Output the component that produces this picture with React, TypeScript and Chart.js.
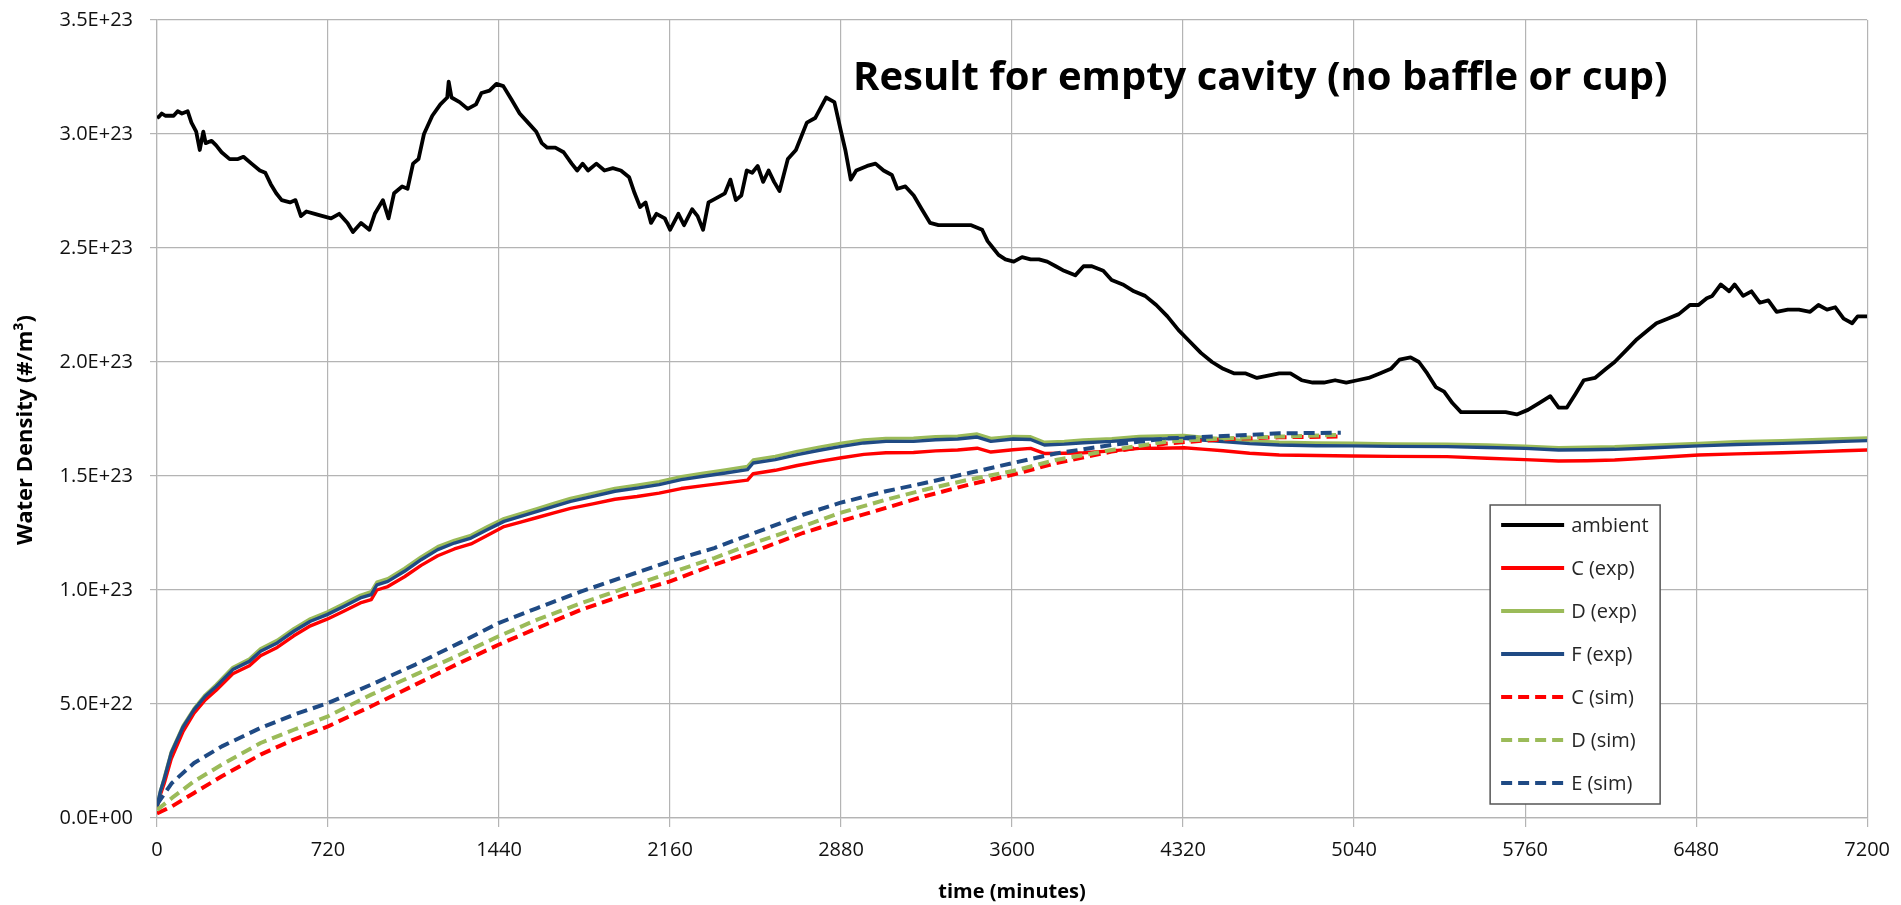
import React, { useEffect, useRef } from "react";
import { Chart, registerables } from "chart.js";

Chart.register(...registerables);

const TITLE = "Result for empty cavity (no baffle or cup)";
const Y_TITLE = "Water Density (#/m³)";
const X_TITLE = "time (minutes)";

const X_MIN = 0;
const X_MAX = 7200;
const X_STEP = 720;
const Y_MIN = 0;
const Y_MAX = 3.5e23;
const Y_STEP = 0.5e23;
const PLOT_TOP = 20;

// ambient (units of 1E23)
const ambientTime = [
  0, 7, 20, 35, 50, 70, 87, 105, 129, 145, 165, 180, 195, 205, 230, 249, 272, 306, 341, 364, 398, 433, 456, 479, 502,
  525, 560, 583, 606, 629, 664, 698, 733, 767, 802, 825, 859, 894, 917, 951, 975, 998, 1032, 1055, 1078, 1101, 1124,
  1159, 1193, 1222, 1228, 1240, 1274, 1308, 1343, 1366, 1400, 1429, 1458, 1493, 1527, 1562, 1597, 1620, 1643, 1677,
  1712, 1746, 1769, 1792, 1815, 1850, 1884, 1919, 1953, 1988, 2011, 2034, 2057, 2080, 2103, 2138, 2160, 2195, 2219,
  2253, 2276, 2299, 2322, 2357, 2391, 2414, 2437, 2460, 2483, 2506, 2529, 2552, 2575, 2598, 2621, 2656, 2690, 2736,
  2771, 2817, 2852, 2880, 2898, 2921, 2944, 2990, 3025, 3059, 3094, 3117, 3151, 3186, 3220, 3255, 3290, 3359, 3428,
  3474, 3497, 3520, 3543, 3572, 3607, 3642, 3678, 3713, 3748, 3784, 3819, 3866, 3901, 3936, 3984, 4019, 4066, 4113,
  4160, 4207, 4254, 4301, 4348, 4395, 4442, 4489, 4536, 4584, 4631, 4678, 4725, 4772, 4819, 4866, 4913, 4960, 5007,
  5054, 5101, 5148, 5195, 5231, 5278, 5313, 5348, 5384, 5419, 5454, 5490, 5537, 5584, 5631, 5678, 5725, 5772, 5819,
  5866, 5901, 5936, 5972, 6007, 6054, 6101, 6137, 6184, 6231, 6278, 6313, 6360, 6407, 6454, 6490, 6525, 6548, 6584,
  6619, 6642, 6678, 6713, 6748, 6784, 6819, 6866, 6913, 6960, 6995, 7031, 7066, 7101, 7137, 7160, 7200,
];
const ambientValue = [
  3.07, 3.075, 3.09, 3.08, 3.08, 3.08, 3.1, 3.09, 3.1, 3.05, 3.01, 2.93, 3.01, 2.96, 2.97, 2.95, 2.92, 2.89, 2.89, 2.9,
  2.87, 2.84, 2.83, 2.78, 2.74, 2.71, 2.7, 2.71, 2.64, 2.66, 2.65, 2.64, 2.63, 2.65, 2.61, 2.57, 2.61, 2.58, 2.65, 2.71,
  2.63, 2.74, 2.77, 2.76, 2.87, 2.89, 3.0, 3.08, 3.13, 3.16, 3.23, 3.16, 3.14, 3.11, 3.13, 3.18, 3.19, 3.22, 3.21, 3.15,
  3.09, 3.05, 3.01, 2.96, 2.94, 2.94, 2.92, 2.87, 2.84, 2.87, 2.84, 2.87, 2.84, 2.85, 2.84, 2.81, 2.74, 2.68, 2.7, 2.61,
  2.65, 2.63, 2.58, 2.65, 2.6, 2.67, 2.64, 2.58, 2.7, 2.72, 2.74, 2.8, 2.71, 2.73, 2.84, 2.83, 2.86, 2.79, 2.84, 2.79,
  2.75, 2.89, 2.93, 3.05, 3.07, 3.16, 3.14, 3.01, 2.93, 2.8, 2.84, 2.86, 2.87, 2.84, 2.82, 2.76, 2.77, 2.73, 2.67, 2.61,
  2.6, 2.6, 2.6, 2.58, 2.53, 2.5, 2.47, 2.45, 2.44, 2.46, 2.45, 2.45, 2.44, 2.42, 2.4, 2.38, 2.42, 2.42, 2.4, 2.36, 2.34,
  2.31, 2.29, 2.25, 2.2, 2.14, 2.09, 2.04, 2.0, 1.97, 1.95, 1.95, 1.93, 1.94, 1.95, 1.95, 1.92, 1.91, 1.91, 1.92, 1.91,
  1.92, 1.93, 1.95, 1.97, 2.01, 2.02, 2.0, 1.95, 1.89, 1.87, 1.82, 1.78, 1.78, 1.78, 1.78, 1.78, 1.77, 1.79, 1.82, 1.85,
  1.8, 1.8, 1.86, 1.92, 1.93, 1.97, 2.0, 2.05, 2.1, 2.14, 2.17, 2.19, 2.21, 2.25, 2.25, 2.28, 2.29, 2.34, 2.31, 2.34,
  2.29, 2.31, 2.26, 2.27, 2.22, 2.23, 2.23, 2.22, 2.25, 2.23, 2.24, 2.19, 2.17, 2.2, 2.2,
];

// experiments (units of 1E22)
const expTime = [
  0, 15, 30, 60, 110, 156, 203, 249, 319, 389, 436, 506, 576, 646, 716, 786, 856, 902, 926, 972, 1042, 1112, 1182, 1252,
  1322, 1392, 1461, 1531, 1601, 1671, 1741, 1835, 1928, 2021, 2114, 2207, 2300, 2393, 2486, 2510, 2603, 2696, 2789,
  2882, 2976, 3069, 3185, 3278, 3371, 3453, 3511, 3604, 3678, 3736, 3820, 3901, 4020, 4136, 4230, 4324, 4400, 4489,
  4600, 4725, 4880, 5031, 5200, 5431, 5600, 5760, 5901, 6020, 6137, 6300, 6490, 6650, 6843, 7000, 7100, 7200,
];
const cExp = [
  0.45, 1.05, 1.5, 2.6, 3.8, 4.6, 5.18, 5.6, 6.33, 6.68, 7.12, 7.48, 7.99, 8.43, 8.72, 9.07, 9.43, 9.58, 10.0, 10.15,
  10.58, 11.08, 11.5, 11.8, 12.02, 12.4, 12.78, 12.98, 13.18, 13.38, 13.58, 13.78, 13.98, 14.1, 14.25, 14.45, 14.58,
  14.7, 14.82, 15.1, 15.25, 15.46, 15.64, 15.8, 15.95, 16.02, 16.03, 16.1, 16.14, 16.22, 16.05, 16.15, 16.21, 15.99,
  16.0, 16.02, 16.1, 16.21, 16.22, 16.24, 16.18, 16.11, 16.0, 15.92, 15.9, 15.88, 15.86, 15.85, 15.78, 15.72, 15.66,
  15.67, 15.7, 15.8, 15.92, 15.97, 16.02, 16.07, 16.11, 16.14,
];
const dExp = [
  0.5, 1.2, 1.75, 2.9, 4.05, 4.8, 5.4, 5.85, 6.6, 6.97, 7.42, 7.79, 8.3, 8.74, 9.03, 9.4, 9.77, 9.93, 10.35, 10.5, 10.95,
  11.45, 11.9, 12.18, 12.4, 12.78, 13.13, 13.35, 13.57, 13.8, 14.02, 14.24, 14.46, 14.6, 14.75, 14.97, 15.12, 15.27,
  15.42, 15.7, 15.86, 16.08, 16.27, 16.44, 16.58, 16.65, 16.66, 16.72, 16.75, 16.84, 16.65, 16.74, 16.72, 16.48, 16.52,
  16.58, 16.64, 16.73, 16.76, 16.78, 16.7, 16.63, 16.54, 16.48, 16.45, 16.44, 16.41, 16.4, 16.36, 16.31, 16.24, 16.26,
  16.28, 16.35, 16.43, 16.5, 16.55, 16.6, 16.64, 16.67,
];
const fExp = [
  0.5, 1.2, 1.7, 2.85, 4.0, 4.75, 5.34, 5.77, 6.51, 6.87, 7.31, 7.68, 8.19, 8.63, 8.92, 9.28, 9.65, 9.8, 10.23, 10.38,
  10.82, 11.33, 11.77, 12.06, 12.28, 12.65, 13.01, 13.23, 13.45, 13.67, 13.89, 14.11, 14.33, 14.47, 14.62, 14.84, 14.99,
  15.13, 15.28, 15.57, 15.72, 15.94, 16.13, 16.3, 16.45, 16.52, 16.52, 16.59, 16.62, 16.71, 16.52, 16.62, 16.6, 16.36,
  16.4, 16.46, 16.52, 16.61, 16.63, 16.65, 16.58, 16.51, 16.42, 16.36, 16.33, 16.32, 16.3, 16.29, 16.25, 16.21, 16.14,
  16.15, 16.17, 16.24, 16.32, 16.38, 16.43, 16.48, 16.52, 16.55,
];

// simulations (units of 1E22)
const simTime = [
  0, 63, 156, 273, 436, 576, 720, 902, 1088, 1274, 1438, 1601, 1787, 1973, 2160, 2346, 2533, 2719, 2875, 3069, 3232,
  3418, 3604, 3784, 4019, 4254, 4489, 4725, 4984,
];
const cSim = [
  0.2, 0.51, 1.1, 1.83, 2.78, 3.44, 4.02, 4.9, 5.85, 6.8, 7.6, 8.33, 9.14, 9.8, 10.38, 11.11, 11.77, 12.5, 13.01, 13.6,
  14.11, 14.62, 15.06, 15.56, 16.07, 16.43, 16.61, 16.7, 16.73,
];
const dSim = [
  0.35, 0.88, 1.61, 2.34, 3.29, 3.87, 4.46, 5.41, 6.29, 7.16, 7.97, 8.7, 9.43, 10.09, 10.75, 11.4, 12.13, 12.79, 13.38,
  13.96, 14.4, 14.84, 15.22, 15.7, 16.14, 16.51, 16.65, 16.73, 16.8,
];
const eSim = [
  0.6, 1.54, 2.41, 3.14, 3.95, 4.53, 5.04, 5.85, 6.73, 7.68, 8.55, 9.21, 9.94, 10.6, 11.26, 11.84, 12.57, 13.3, 13.82,
  14.33, 14.69, 15.13, 15.57, 15.99, 16.36, 16.65, 16.75, 16.87, 16.9,
];

const BLACK = "#000000";
const RED = "#FF0000";
const GREEN = "#9BBB59";
const BLUE = "#1F4A84";
const GRID = "#b4b4b4";
const FONT = '"Open Sans", "Noto Sans", sans-serif';

function toPoints(t: number[], v: number[], unit: number) {
  return t.map((x, i) => ({ x, y: v[i] * unit }));
}

function sci(v: number): string {
  if (v === 0) return "0.0E+00";
  const e = Math.floor(Math.log10(Math.abs(v)) + 1e-9);
  const m = v / Math.pow(10, e);
  return m.toFixed(1) + "E+" + String(e).padStart(2, "0");
}

const overlayPlugin = {
  id: "overlay",
  afterLayout(chart: any) {
    // pin the top of the plot area
    const ca = chart.chartArea;
    const y = chart.scales.y;
    if (ca.top !== PLOT_TOP) {
      ca.top = PLOT_TOP;
      ca.height = ca.bottom - ca.top;
      y.top = PLOT_TOP;
      y.height = y.bottom - y.top;
      y.configure();
    }
  },
  afterDatasetsDraw(chart: any) {
    const { ctx, chartArea } = chart;
    ctx.save();
    // main title
    ctx.fillStyle = "#000";
    ctx.font = `bold 40px ${FONT}`;
    ctx.textAlign = "left";
    ctx.textBaseline = "alphabetic";
    ctx.fillText(TITLE, chartArea.left + 696, chartArea.top + 70, 816);

    // y axis title
    ctx.save();
    ctx.translate(chartArea.left - 131, (chartArea.top + chartArea.bottom) / 2 + 11);
    ctx.rotate(-Math.PI / 2);
    ctx.textAlign = "center";
    ctx.textBaseline = "middle";
    ctx.font = `bold 22px ${FONT}`;
    ctx.fillText(Y_TITLE, 0, 0, 232);
    ctx.restore();

    // legend
    const bw = 170;
    const bh = 299;
    const bx = chartArea.right - 377;
    const by = chartArea.top + 485;
    ctx.fillStyle = "#ffffff";
    ctx.fillRect(bx, by, bw, bh);
    ctx.strokeStyle = "#555555";
    ctx.lineWidth = 1.5;
    ctx.strokeRect(bx, by, bw, bh);
    ctx.font = `20px ${FONT}`;
    ctx.textAlign = "left";
    ctx.textBaseline = "middle";
    chart.data.datasets.forEach((ds: any, i: number) => {
      const yy = by + 20 + i * 43;
      ctx.save();
      ctx.strokeStyle = ds.borderColor;
      ctx.lineWidth = 4;
      ctx.setLineDash(ds.borderDash || []);
      ctx.beginPath();
      ctx.moveTo(bx + 11, yy);
      ctx.lineTo(bx + 74, yy);
      ctx.stroke();
      ctx.restore();
      ctx.fillStyle = "#262626";
      ctx.fillText(ds.label, bx + 81, yy + 1);
    });
    ctx.restore();
  },
};

export default function App() {
  const ref = useRef<HTMLCanvasElement | null>(null);

  useEffect(() => {
    if (!ref.current) return;
    const dash = [11, 6];
    const chart = new Chart(ref.current, {
      type: "line",
      data: {
        datasets: [
          { label: "ambient", data: toPoints(ambientTime, ambientValue, 1e23), borderColor: BLACK, borderWidth: 3.8, order: 7 },
          { label: "C (exp)", data: toPoints(expTime, cExp, 1e22), borderColor: RED, borderWidth: 3.4, order: 6 },
          { label: "D (exp)", data: toPoints(expTime, dExp, 1e22), borderColor: GREEN, borderWidth: 3.4, order: 5 },
          { label: "F (exp)", data: toPoints(expTime, fExp, 1e22), borderColor: BLUE, borderWidth: 3.4, order: 4 },
          { label: "C (sim)", data: toPoints(simTime, cSim, 1e22), borderColor: RED, borderWidth: 4, borderDash: dash, order: 3 },
          { label: "D (sim)", data: toPoints(simTime, dSim, 1e22), borderColor: GREEN, borderWidth: 4, borderDash: dash, order: 2 },
          { label: "E (sim)", data: toPoints(simTime, eSim, 1e22), borderColor: BLUE, borderWidth: 4, borderDash: dash, order: 1 },
        ] as any,
      },
      options: {
        responsive: false,
        animation: false,
        devicePixelRatio: 1,
        layout: { padding: { left: 0, right: 32, top: PLOT_TOP, bottom: 0 } },
        elements: {
          point: { radius: 0, hoverRadius: 0 },
          line: { tension: 0, borderJoinStyle: "round", fill: false },
        },
        plugins: {
          legend: { display: false },
          tooltip: { enabled: false },
        },
        scales: {
          x: {
            type: "linear",
            min: X_MIN,
            max: X_MAX,
            afterFit: (s: any) => {
              s.height = 87;
            },
            ticks: {
              stepSize: X_STEP,
              autoSkip: false,
              maxRotation: 0,
              padding: 11,
              color: "#111111",
              font: { family: FONT, size: 20 },
              callback: (v: any) => String(v),
            },
            grid: { color: GRID, lineWidth: 1.2, tickLength: 9, tickColor: GRID },
            border: { color: GRID, width: 1.2 },
            title: {
              display: true,
              text: X_TITLE,
              color: "#000",
              font: { family: FONT, size: 20, weight: "bold" },
              padding: { top: 0, bottom: 1 },
            },
          },
          y: {
            type: "linear",
            min: Y_MIN,
            max: Y_MAX,
            afterFit: (s: any) => {
              s.width = 157;
            },
            ticks: {
              stepSize: Y_STEP,
              padding: 17,
              color: "#111111",
              font: { family: FONT, size: 20 },
              callback: (v: any) => sci(Number(v)),
            },
            grid: { color: GRID, lineWidth: 1.2, tickLength: 7, tickColor: GRID },
            border: { color: GRID, width: 1.2 },
          },
        },
      } as any,
      plugins: [overlayPlugin],
    });
    return () => chart.destroy();
  }, []);

  return (
    <div style={{ position: "fixed", left: 0, top: 0, width: 1901, height: 905, background: "#ffffff" }}>
      <canvas ref={ref} width={1901} height={905} style={{ display: "block" }} />
    </div>
  );
}
